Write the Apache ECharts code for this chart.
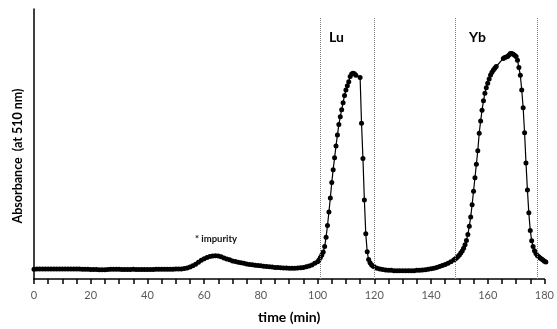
<!DOCTYPE html>
<html>
<head>
<meta charset="utf-8">
<script src="https://cdn.jsdelivr.net/npm/echarts@6/dist/echarts.min.js"></script>
<style>
  html, body { margin: 0; padding: 0; background: #fff; }
  #chart { width: 557px; height: 329px; }
</style>
</head>
<body>
<div id="chart"></div>
<script>
// elution profile, time in min / absorbance (relative units)
var baselineTime = [0,1,2,3,4,5,6,7,8,9,10,11,12,13,14,15,16,17,18,19,20,21,22,23,24,25,26,27,28,29,30,31,32,33,34,35,36,37,38,39,40,41,42,43,44,45,46,47,48,49,50,51,52];
var baselineAbs = [0.036,0.037,0.037,0.037,0.037,0.037,0.037,0.037,0.037,0.037,0.037,0.037,0.037,0.037,0.037,0.037,0.037,0.036,0.036,0.036,0.035,0.035,0.035,0.034,0.034,0.034,0.035,0.036,0.036,0.036,0.036,0.035,0.035,0.035,0.035,0.036,0.035,0.035,0.035,0.035,0.035,0.035,0.035,0.036,0.036,0.036,0.036,0.036,0.036,0.036,0.037,0.037,0.037];

var impurityTime = [53,54,55,56,57,58,59,60,61,62,63,64,65,66,67,68,69,70,71,72,73,74,75,76,77,78,79,80,81,82,83,84,85,86,87,88,89,90,91,92,93,94,95,96,97,98,99,100,100.5];
var impurityAbs = [0.039,0.041,0.044,0.049,0.055,0.062,0.069,0.075,0.080,0.083,0.085,0.086,0.085,0.082,0.078,0.074,0.071,0.067,0.065,0.062,0.060,0.058,0.056,0.054,0.053,0.051,0.050,0.049,0.047,0.046,0.045,0.044,0.043,0.043,0.042,0.041,0.041,0.040,0.040,0.040,0.041,0.042,0.043,0.045,0.048,0.052,0.058,0.064,0.070];

var luTime = [101,101.5,102,102.5,103,103.5,104,104.5,105,105.5,106,106.5,107,107.5,108,108.5,109,109.5,110,110.5,111,111.5,112,112.5,113,113.5,115,115.5,116,116.5,117,117.5,118,118.5,119,119.5,120];
var luAbs = [0.080,0.089,0.100,0.120,0.155,0.198,0.248,0.300,0.357,0.405,0.449,0.493,0.533,0.572,0.601,0.627,0.653,0.680,0.700,0.716,0.731,0.750,0.759,0.762,0.760,0.755,0.746,0.577,0.446,0.293,0.168,0.101,0.072,0.060,0.053,0.048,0.045];

var gapTime = [121,122,123,124,125,126,127,128,129,130,131,132,133,134,135,136,137,138,139,140,141,142,143,144,145,146,147,148];
var gapAbs = [0.040,0.037,0.035,0.033,0.032,0.032,0.031,0.031,0.031,0.031,0.031,0.031,0.031,0.031,0.032,0.032,0.033,0.034,0.036,0.038,0.040,0.043,0.046,0.050,0.054,0.058,0.064,0.070];

var ybTime = [148.5,149,149.5,150,150.5,151,151.5,152,152.5,153,153.5,154,154.5,155,155.5,156,156.5,157,157.5,158,158.5,159,159.5,160,160.5,161,161.5,162,162.5,163,165.5,166,166.5,167,167.5,168,168.5,169,169.5,170,170.5,171,171.5,172,172.5,173,173.5,174,174.5,175,175.5,176,176.5,177,177.5,178,178.5,179,179.5,180,180.5];
var ybAbs = [0.074,0.078,0.083,0.089,0.096,0.104,0.114,0.127,0.143,0.165,0.195,0.230,0.275,0.325,0.375,0.425,0.475,0.540,0.585,0.625,0.660,0.688,0.708,0.725,0.741,0.756,0.766,0.774,0.781,0.787,0.817,0.820,0.822,0.824,0.830,0.835,0.835,0.832,0.829,0.824,0.810,0.783,0.755,0.700,0.634,0.542,0.430,0.330,0.245,0.180,0.142,0.120,0.105,0.094,0.087,0.082,0.078,0.074,0.070,0.066,0.063];

// fraction cut times (dotted lines)
var cutTimes = [101, 120, 148.5, 177.3];
var xTicks = { min: 0, max: 180, interval: 20 };

var time = baselineTime.concat(impurityTime, luTime, gapTime, ybTime);
var absorbance = baselineAbs.concat(impurityAbs, luAbs, gapAbs, ybAbs);
var points = time.map(function (t, i) { return [t, absorbance[i]]; });

var chart = echarts.init(document.getElementById("chart"));
var font = "Lato, 'Open Sans', sans-serif";

var option = {
  animation: false,
  backgroundColor: "#fff",
  grid: { left: 34, right: 10, top: 9, bottom: 50 },
  xAxis: {
    type: "value",
    min: xTicks.min,
    max: xTicks.max,
    interval: xTicks.interval,
    name: "time (min)",
    nameLocation: "middle",
    nameGap: 31,
    nameTextStyle: { fontFamily: font, fontSize: 14, fontWeight: "bold", color: "#000" },
    axisLine: { lineStyle: { color: "#000", width: 1.5 } },
    axisTick: { show: true, length: 5, inside: false, lineStyle: { color: "#000", width: 1.5 } },
    minorTick: { show: true, splitNumber: 4, length: 5, lineStyle: { color: "#000", width: 1.5 } },
    axisLabel: { fontFamily: font, fontSize: 11, color: "#595959", margin: 11 },
    splitLine: { show: false }
  },
  yAxis: {
    type: "value",
    min: 0,
    max: 1,
    name: "Absorbance  (at 510 nm)",
    nameLocation: "middle",
    nameGap: 10,
    nameTextStyle: { fontFamily: font, fontSize: 12.5, fontWeight: "bold", color: "#000", padding: [0, 24, 0, 0] },
    axisLine: { show: true, lineStyle: { color: "#000", width: 1.5 } },
    axisTick: { show: false },
    axisLabel: { show: false },
    splitLine: { show: false }
  },
  graphic: [
    { type: "text", left: 329, top: 30, style: { text: "Lu", fontFamily: font, fontSize: 14, fontWeight: "bold", fill: "#000" } },
    { type: "text", left: 469, top: 30, style: { text: "Yb", fontFamily: font, fontSize: 14, fontWeight: "bold", fill: "#000" } },
    { type: "text", left: 195, top: 234, style: { text: "* impurity", fontFamily: font, fontSize: 9.5, fontWeight: "bold", fill: "#111" } }
  ],
  series: [
    {
      type: "line",
      data: points,
      clip: false,
      symbol: "circle",
      symbolSize: 5,
      showSymbol: true,
      showAllSymbol: true,
      itemStyle: { color: "#000" },
      lineStyle: { color: "#000", width: 1.2 },
      markLine: {
        silent: true,
        symbol: "none",
        label: { show: false },
        lineStyle: { color: "#808080", type: "dotted", width: 1 },
        data: cutTimes.map(function (t) {
          return [{ coord: [t, 0] }, { coord: [t, 0.97] }];
        })
      }
    }
  ]
};

chart.setOption(option);
</script>
</body>
</html>
